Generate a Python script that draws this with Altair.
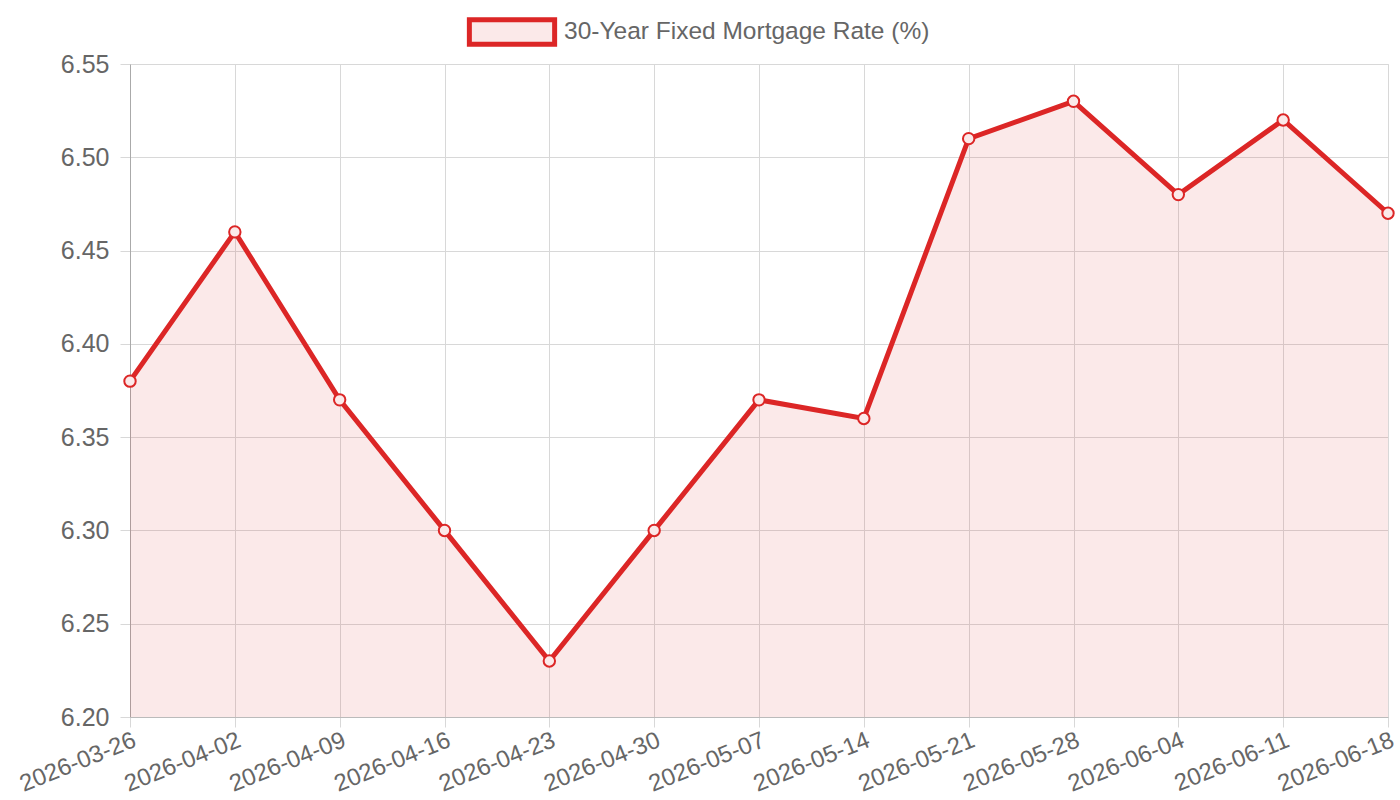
import altair as alt
import pandas as pd

dates = ["2026-03-26", "2026-04-02", "2026-04-09", "2026-04-16", "2026-04-23",
         "2026-04-30", "2026-05-07", "2026-05-14", "2026-05-21", "2026-05-28",
         "2026-06-04", "2026-06-11", "2026-06-18"]
rates = [6.38, 6.46, 6.37, 6.30, 6.23, 6.30, 6.37, 6.36, 6.51, 6.53, 6.48, 6.52, 6.47]
series_name = "30-Year Fixed Mortgage Rate (%)"
y_ticks = [6.20, 6.25, 6.30, 6.35, 6.40, 6.45, 6.50, 6.55]

RED = "#dc2626"
FILL = "rgba(220,38,38,0.1)"
FONT = "Liberation Sans"
GRID = "#d8d8d8"

df = pd.DataFrame({"date": dates, "rate": rates, "series": [series_name] * len(dates)})

x_enc = alt.X("date:N", sort=None, title=None,
              scale=alt.Scale(padding=0),
              axis=alt.Axis(labelAngle=-22, labelAlign="right", labelBaseline="top",
                            labelFontSize=24, labelColor="#666", labelFont=FONT,
                            labelPadding=1, tickSize=10, tickColor=GRID, grid=True,
                            gridColor=GRID, domainColor="#bbb", labelOverlap=False))
y_enc = alt.Y("rate:Q", title=None,
              scale=alt.Scale(domain=[6.2, 6.55], zero=False, nice=False),
              axis=alt.Axis(values=y_ticks, format=".2f", labelFontSize=25,
                            labelColor="#666", labelFont=FONT, labelPadding=11,
                            tickSize=10, tickColor=GRID, gridColor=GRID,
                            domainColor="#aaa"))

base = alt.Chart(df)

area = base.mark_area(opacity=1).encode(
    x=x_enc, y=y_enc, y2=alt.datum(6.2),
    fill=alt.Fill("series:N", scale=alt.Scale(range=[FILL]),
                  legend=alt.Legend(title=None, orient="none", legendX=355, legendY=-59,
                                    symbolType="M-1.74,-0.5L1.74,-0.5L1.74,0.5L-1.74,0.5Z",
                                    symbolSize=2401, symbolStrokeColor=RED,
                                    symbolStrokeWidth=5, symbolOpacity=1,
                                    labelFontSize=24.5, labelColor="#666", labelFont=FONT,
                                    labelOffset=25, labelLimit=0, padding=0)),
)
line = base.mark_line(color=RED, strokeWidth=5).encode(x=x_enc, y=y_enc)
points = base.mark_point(filled=True, fill="#fbe9e9", stroke=RED, strokeWidth=2,
                         size=130, opacity=1, shape="circle").encode(x=x_enc, y=y_enc)

chart = (area + line + points).properties(
    width=1258, height=653,
    autosize=alt.AutoSizeParams(type="none"),
    padding={"left": 130, "top": 64, "right": 12, "bottom": 83},
    background="white",
).configure_view(stroke=GRID)

chart.save("out.html", embed_options={"renderer": "svg", "actions": False})
